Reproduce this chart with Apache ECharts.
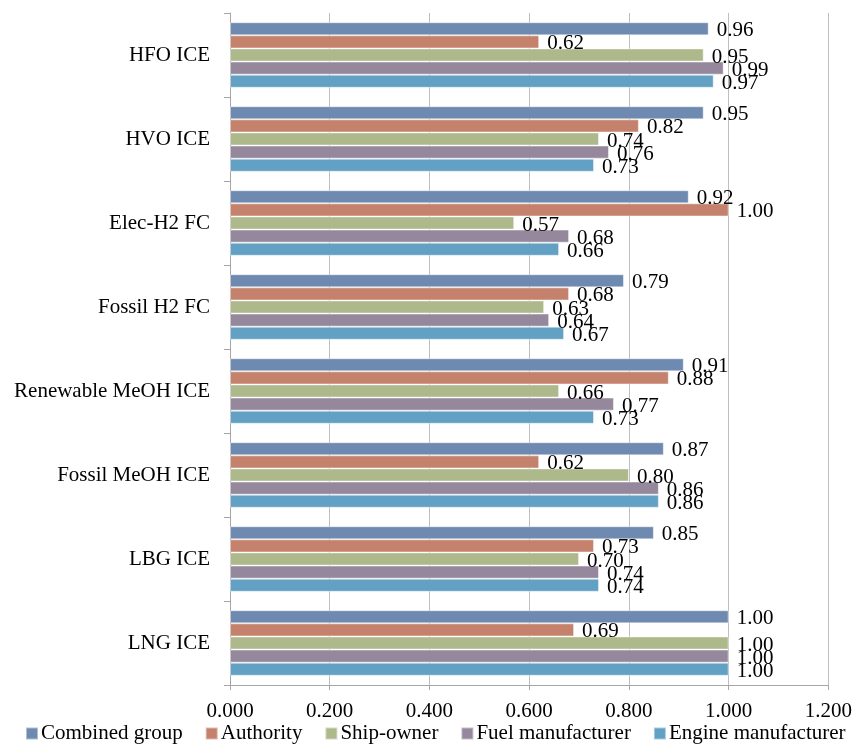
<!DOCTYPE html>
<html>
<head>
<meta charset="utf-8">
<script src="https://cdn.jsdelivr.net/npm/echarts@6/dist/echarts.min.js"></script>
<style>
  html, body { margin: 0; padding: 0; background: #fff; }
  #chart { width: 855px; height: 745px; }
</style>
</head>
<body>
<div id="chart"></div>
<script>
// Propulsion options, listed top to bottom
const categories = [
  'HFO ICE', 'HVO ICE', 'Elec-H2 FC', 'Fossil H2 FC',
  'Renewable MeOH ICE', 'Fossil MeOH ICE', 'LBG ICE', 'LNG ICE'
];

// Scores per stakeholder group, one value per category above
const combinedGroup       = [0.96, 0.95, 0.92, 0.79, 0.91, 0.87, 0.85, 1.00];
const authority           = [0.62, 0.82, 1.00, 0.68, 0.88, 0.62, 0.73, 0.69];
const shipOwner           = [0.95, 0.74, 0.57, 0.63, 0.66, 0.80, 0.70, 1.00];
const fuelManufacturer    = [0.99, 0.76, 0.68, 0.64, 0.77, 0.86, 0.74, 1.00];
const engineManufacturer  = [0.97, 0.73, 0.66, 0.67, 0.73, 0.86, 0.74, 1.00];

const seriesNames = ['Combined group', 'Authority', 'Ship-owner', 'Fuel manufacturer', 'Engine manufacturer'];
const seriesData  = [combinedGroup, authority, shipOwner, fuelManufacturer, engineManufacturer];
const colors      = ['#6f8ab0', '#c4816b', '#aeb98b', '#95889c', '#62a0c4'];

const FONT = '"Liberation Serif", "Times New Roman", serif';

const chart = echarts.init(document.getElementById('chart'), null, { renderer: 'canvas' });

chart.setOption({
  animation: false,
  color: colors,
  textStyle: { fontFamily: FONT, color: '#000' },
  grid: { left: 230, right: 26, top: 13, bottom: 60, containLabel: false },
  legend: {
    data: seriesNames,
    left: 25,
    top: 723,
    padding: 0,
    icon: 'rect',
    itemWidth: 12,
    itemHeight: 12,
    itemGap: 22,
    textStyle: { fontFamily: FONT, fontSize: 21, color: '#000', padding: [2, 0, 0, -2] }
  },
  xAxis: {
    type: 'value',
    min: 0,
    max: 1.2,
    interval: 0.2,
    axisLine: { show: true, lineStyle: { color: '#a6a6a6', width: 1 } },
    axisTick: { show: true, length: 5, lineStyle: { color: '#a6a6a6' } },
    splitLine: { show: true, lineStyle: { color: '#bfbfbf', width: 1 } },
    axisLabel: {
      margin: 16,
      fontFamily: FONT, fontSize: 21, color: '#000',
      formatter: v => v.toFixed(3)
    }
  },
  yAxis: {
    type: 'category',
    inverse: true,
    data: categories,
    axisLine: { show: true, lineStyle: { color: '#a6a6a6', width: 1 } },
    axisTick: { show: true, length: 6, lineStyle: { color: '#a6a6a6' } },
    axisLabel: { margin: 20, fontFamily: FONT, fontSize: 21, color: '#000', padding: [2, 0, 0, 0] },
    splitLine: { show: false }
  },
  series: seriesNames.map((name, i) => ({
    name: name,
    type: 'bar',
    data: seriesData[i],
    barGap: 0,
    barCategoryGap: '22%',
    itemStyle: { color: colors[i], borderColor: 'rgba(255,255,255,0.45)', borderWidth: 1 },
    label: {
      show: true,
      position: 'right',
      distance: 8,
      offset: [0, 2],
      fontFamily: FONT,
      fontSize: 21,
      color: '#000',
      formatter: p => p.value.toFixed(2)
    }
  }))
});
</script>
</body>
</html>
